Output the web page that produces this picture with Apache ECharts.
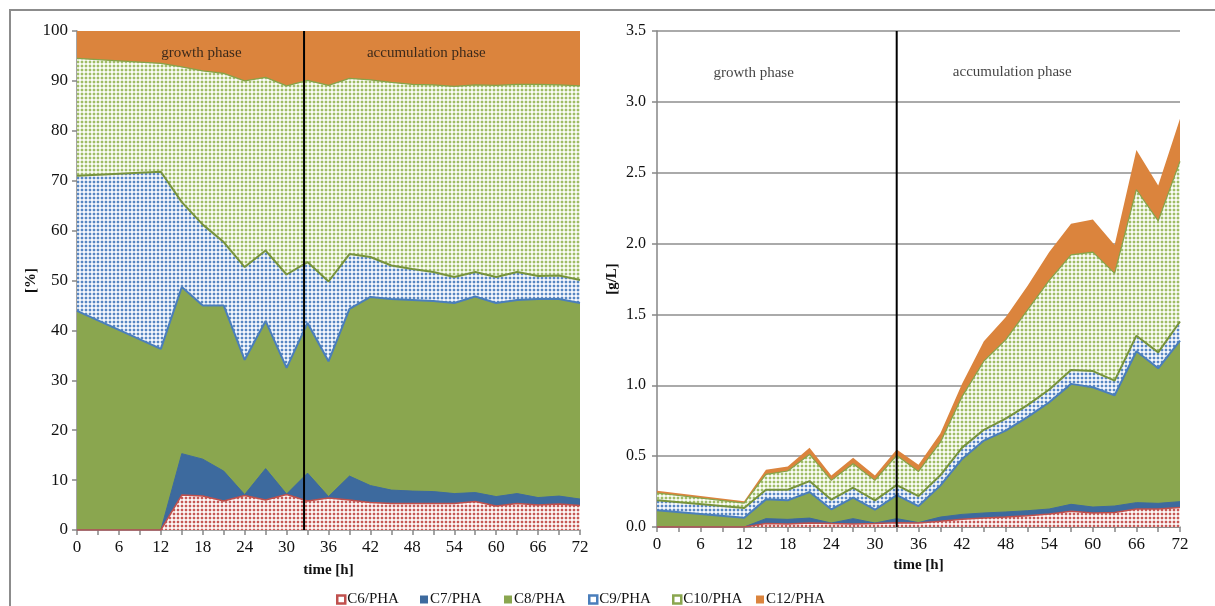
<!DOCTYPE html>
<html>
<head>
<meta charset="utf-8">
<script src="https://cdn.jsdelivr.net/npm/echarts@6/dist/echarts.min.js"></script>
<style>
  html, body { margin: 0; padding: 0; background: #ffffff; }
  #chart { width: 1215px; height: 606px; }
</style>
</head>
<body>
<div id="chart"></div>
<script>
// Sampling times [h]
const hours = [0, 12, 15, 18, 21, 24, 27, 30, 33, 36, 39, 42, 45, 48, 51, 54, 57, 60, 63, 66, 69, 72];

// Monomer composition of PHA [%]
const pctC6  = [0, 0, 7.0, 6.8, 5.8, 6.9, 6.0, 7.1, 5.8, 6.4, 6.0, 5.5, 5.3, 5.3, 5.3, 5.3, 5.7, 4.8, 5.3, 5.0, 5.2, 4.9];
const pctC7  = [0, 0, 8.3, 7.4, 6.0, 0.2, 6.3, 0.1, 5.6, 0.3, 4.8, 3.4, 2.7, 2.5, 2.4, 2.0, 1.8, 1.9, 2.0, 1.5, 1.6, 1.3];
const pctC8  = [43.9, 36.3, 33.4, 30.8, 33.2, 27.0, 29.6, 25.3, 30.1, 27.1, 33.5, 37.8, 38.3, 38.3, 38.2, 38.2, 39.3, 38.8, 38.8, 39.8, 39.5, 39.3];
const pctC9  = [27.1, 35.5, 17.0, 16.2, 12.7, 18.6, 14.1, 18.7, 12.2, 16.0, 11.0, 8.0, 6.7, 6.2, 5.8, 5.2, 4.9, 5.2, 5.6, 4.6, 4.7, 4.6];
const pctC10 = [23.5, 21.7, 27.1, 30.8, 33.8, 37.3, 34.7, 37.8, 36.4, 39.3, 35.2, 35.5, 36.7, 37.0, 37.5, 38.2, 37.5, 38.4, 37.6, 38.4, 38.2, 38.9];
const pctC12 = [5.5, 6.5, 7.2, 8.0, 8.5, 10.0, 9.3, 11.0, 9.9, 10.9, 9.5, 9.8, 10.3, 10.7, 10.8, 11.1, 10.8, 10.9, 10.7, 10.7, 10.8, 11.0];

// Monomer concentrations [g/L]
const glC6  = [0, 0, 0.024, 0.022, 0.028, 0.024, 0.022, 0.024, 0.030, 0.028, 0.040, 0.054, 0.064, 0.070, 0.080, 0.092, 0.111, 0.099, 0.103, 0.127, 0.127, 0.137];
const glC7  = [0, 0, 0.035, 0.032, 0.035, 0.004, 0.037, 0.004, 0.029, 0.003, 0.030, 0.035, 0.035, 0.036, 0.035, 0.035, 0.049, 0.042, 0.045, 0.045, 0.040, 0.042];
const glC8  = [0.118, 0.066, 0.136, 0.134, 0.184, 0.097, 0.148, 0.094, 0.166, 0.117, 0.222, 0.391, 0.511, 0.574, 0.660, 0.753, 0.850, 0.845, 0.782, 1.068, 0.953, 1.136];
const glC9  = [0.070, 0.068, 0.068, 0.075, 0.077, 0.068, 0.070, 0.066, 0.071, 0.070, 0.073, 0.080, 0.076, 0.085, 0.085, 0.090, 0.098, 0.114, 0.103, 0.110, 0.112, 0.135];
const glC10 = [0.052, 0.035, 0.108, 0.132, 0.188, 0.136, 0.169, 0.141, 0.209, 0.174, 0.232, 0.360, 0.484, 0.555, 0.670, 0.770, 0.812, 0.840, 0.757, 1.030, 0.928, 1.130];
const glC12 = [0.016, 0.012, 0.033, 0.032, 0.047, 0.035, 0.043, 0.035, 0.042, 0.048, 0.063, 0.090, 0.140, 0.160, 0.170, 0.200, 0.220, 0.230, 0.200, 0.280, 0.250, 0.300];

// Series names
const seriesNames = ['C6/PHA', 'C7/PHA', 'C8/PHA', 'C9/PHA', 'C10/PHA', 'C12/PHA'];

// End of growth phase (vertical marker) in each panel
const boundaryPct = [[32.5, 0], [32.5, 100]];
const boundaryGL  = [[33, 0], [33, 3.5]];

// Phase annotations
const phaseNames = ['growth phase', 'accumulation phase'];
const phasePosPct = [[17.8, 95.6], [50.0, 95.6]];
const phasePosGL  = [[13.3, 3.2], [48.9, 3.21]];

const SERIF = "'Liberation Serif', 'DejaVu Serif', serif";
const AXIS_GRAY = '#868686';

// Small repeating tile: a coloured dot with a faint halo on a tinted ground
function dotPattern(dot, halo, bg) {
  const c = document.createElement('canvas');
  c.width = 4; c.height = 4;
  const g = c.getContext('2d');
  g.fillStyle = bg;
  g.fillRect(0, 0, 4, 4);
  g.fillStyle = halo;
  g.fillRect(0, 1, 4, 2);
  g.fillRect(1, 0, 2, 4);
  g.fillStyle = dot;
  g.fillRect(1, 1, 2, 2);
  return { image: c, repeat: 'repeat' };
}

const styles = [
  { fill: dotPattern('#c65855', '#f0d4d3', '#fdf8f8'), line: { color: '#c0504d', width: 1.5 }, legend: { color: '#ffffff', borderColor: '#c0504d', borderWidth: 2.5 } },
  { fill: '#3d6a9e', line: { color: '#3d6a9e', width: 1 }, legend: { color: '#3d6a9e', borderWidth: 0 } },
  { fill: '#8aa64f', line: { color: '#4a7ebb', width: 2 }, legend: { color: '#8aa64f', borderWidth: 0 } },
  { fill: dotPattern('#5686c2', '#cfdcef', '#f6f9fd'), line: { color: '#77933c', width: 2 }, legend: { color: '#ffffff', borderColor: '#4a7ebb', borderWidth: 2.5 } },
  { fill: dotPattern('#9fbd66', '#e2ebd0', '#fbfdf7'), line: { color: '#86a44a', width: 1.2 }, legend: { color: '#ffffff', borderColor: '#8aa64f', borderWidth: 2.5 } },
  { fill: '#db843d', line: { color: '#db843d', width: 0, opacity: 0 }, legend: { color: '#db843d', borderWidth: 0 } }
];

// Stacked areas: each layer is drawn from its cumulative top down to the
// axis, with lower layers painted over higher ones.
function stacked(gridIndex, valueSets) {
  const running = hours.map(() => 0);
  return valueSets.map((vals, i) => {
    const tops = vals.map((v, k) => (running[k] += v));
    return {
      type: 'line',
      name: seriesNames[i],
      xAxisIndex: gridIndex,
      yAxisIndex: gridIndex,
      z: 10 - i,
      symbol: 'none',
      smooth: false,
      silent: true,
      data: hours.map((h, k) => [h, tops[k]]),
      itemStyle: { color: styles[i].legend.color },
      lineStyle: styles[i].line,
      areaStyle: { color: styles[i].fill, opacity: 1, origin: 'start' }
    };
  });
}

function boundary(gridIndex, pts) {
  return {
    type: 'line', xAxisIndex: gridIndex, yAxisIndex: gridIndex,
    data: pts, symbol: 'none', z: 20, silent: true,
    lineStyle: { color: '#000000', width: 2 }
  };
}

function phaseLabels(gridIndex, pos) {
  return {
    type: 'scatter', xAxisIndex: gridIndex, yAxisIndex: gridIndex,
    z: 30, silent: true, symbolSize: 1,
    itemStyle: { color: 'transparent' },
    data: pos.map((p, i) => ({ name: phaseNames[i], value: p })),
    label: {
      show: true, position: 'inside', formatter: p => p.name,
      fontFamily: SERIF, fontSize: 15, color: '#111111'
    }
  };
}

function xAxis(gridIndex, gap) {
  return {
    type: 'value', gridIndex, min: 0, max: 72, interval: 6,
    axisLine: { show: true, onZero: false, lineStyle: { color: AXIS_GRAY, width: 1.5 } },
    axisTick: { show: true, length: 5, lineStyle: { color: AXIS_GRAY, width: 1.5 } },
    minorTick: { show: true, splitNumber: 2, length: 5, lineStyle: { color: AXIS_GRAY, width: 1.5 } },
    splitLine: { show: false },
    axisLabel: { fontFamily: SERIF, fontSize: 17, color: '#111111', margin: 9 },
    name: 'time [h]', nameLocation: 'middle', nameGap: gap,
    nameTextStyle: { fontFamily: SERIF, fontSize: 15, fontWeight: 'bold', color: '#111111' }
  };
}

// Legend entries sit in equal-width slots along the bottom
const LEGEND_LEFT = 331;
const LEGEND_SLOT = 84;
const legends = seriesNames.map((n, i) => ({
  left: LEGEND_LEFT + LEGEND_SLOT * i, top: 587,
  icon: 'rect', itemWidth: 8, itemHeight: 8,
  selectedMode: false,
  textStyle: { fontFamily: SERIF, fontSize: 15, color: '#111111', padding: [0, 0, 0, -3] },
  data: [{ name: n, itemStyle: styles[i].legend }]
}));

const chart = echarts.init(document.getElementById('chart'), null, { renderer: 'canvas' });

chart.setOption({
  animation: false,
  backgroundColor: '#ffffff',
  graphic: [{
    type: 'rect', silent: true, z: 100,
    shape: { x: 10, y: 10, width: 1300, height: 700 },
    style: { fill: 'none', stroke: '#8c8c8c', lineWidth: 2 }
  }],
  grid: [
    { left: 77, right: 635, top: 31, bottom: 76 },
    { left: 657, right: 35, top: 31, bottom: 79 }
  ],
  xAxis: [xAxis(0, 33), xAxis(1, 30)],
  yAxis: [
    {
      type: 'value', gridIndex: 0, min: 0, max: 100, interval: 10,
      axisLine: { show: true, lineStyle: { color: AXIS_GRAY, width: 1.5 } },
      axisTick: { show: true, length: 5, lineStyle: { color: AXIS_GRAY, width: 1.5 } },
      splitLine: { show: false },
      axisLabel: { fontFamily: SERIF, fontSize: 17, color: '#111111', margin: 9 },
      name: '[%]', nameLocation: 'middle', nameRotate: 90, nameGap: 32,
      nameTextStyle: { fontFamily: SERIF, fontSize: 15, fontWeight: 'bold', color: '#111111' }
    },
    {
      type: 'value', gridIndex: 1, min: 0, max: 3.5, interval: 0.5,
      axisLine: { show: true, lineStyle: { color: AXIS_GRAY, width: 1.5 } },
      axisTick: { show: true, length: 5, lineStyle: { color: AXIS_GRAY, width: 1.5 } },
      splitLine: { show: true, lineStyle: { color: '#8e8e8e', width: 1.5 } },
      axisLabel: { fontFamily: SERIF, fontSize: 16, color: '#111111', margin: 11, formatter: v => v.toFixed(1) },
      name: '[g/L]', nameLocation: 'middle', nameRotate: 90, nameGap: 37,
      nameTextStyle: { fontFamily: SERIF, fontSize: 15, fontWeight: 'bold', color: '#111111' }
    }
  ],
  legend: legends,
  series: [
    ...stacked(0, [pctC6, pctC7, pctC8, pctC9, pctC10, pctC12]),
    ...stacked(1, [glC6, glC7, glC8, glC9, glC10, glC12]),
    boundary(0, boundaryPct),
    boundary(1, boundaryGL),
    phaseLabels(0, phasePosPct),
    phaseLabels(1, phasePosGL)
  ]
});
</script>
</body>
</html>
